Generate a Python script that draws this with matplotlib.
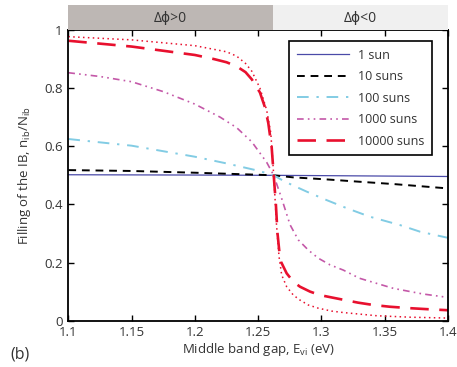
import matplotlib
matplotlib.use("Agg")
import matplotlib.pyplot as plt

plt.rcParams['font.family'] = ['Open Sans', 'DejaVu Sans']
plt.rcParams['mathtext.fontset'] = 'custom'
plt.rcParams['mathtext.rm'] = 'Open Sans'

# values
x_1sun = [1.10, 1.20, 1.2623, 1.30, 1.40]
y_1sun = [0.502, 0.501, 0.500, 0.499, 0.496]

x_10suns = [1.10, 1.15, 1.20, 1.25, 1.2623, 1.2777, 1.304, 1.33, 1.357, 1.40]
y_10suns = [0.518, 0.515, 0.509, 0.502, 0.500, 0.493, 0.486, 0.478, 0.470, 0.455]

x_100suns = [1.10, 1.15, 1.20, 1.225, 1.25, 1.2623, 1.2712, 1.2883, 1.304,
             1.32, 1.338, 1.362, 1.378, 1.40]
y_100suns = [0.625, 0.602, 0.564, 0.541, 0.516, 0.500, 0.478, 0.444, 0.415,
             0.387, 0.358, 0.329, 0.306, 0.285]

x_1000suns = [1.10, 1.125, 1.15, 1.175, 1.20, 1.22, 1.233, 1.245, 1.2567,
              1.2623, 1.2686, 1.2752, 1.2817, 1.2896, 1.2975, 1.3068, 1.3173,
              1.33, 1.357, 1.38, 1.40]
y_1000suns = [0.853, 0.840, 0.822, 0.788, 0.745, 0.700, 0.664, 0.615, 0.545,
              0.500, 0.420, 0.330, 0.278, 0.243, 0.215, 0.192, 0.174,
              0.146, 0.111, 0.092, 0.080]

x_10000suns = [1.10, 1.15, 1.20, 1.215, 1.225, 1.233, 1.24, 1.245, 1.2514,
               1.2553, 1.258, 1.2607, 1.2623, 1.264, 1.2653, 1.2668, 1.268,
               1.2725, 1.2778, 1.283, 1.291, 1.2989, 1.308, 1.3173, 1.329,
               1.341, 1.354, 1.37, 1.386, 1.40]
y_10000suns = [0.963, 0.943, 0.914, 0.900, 0.889, 0.875, 0.855, 0.830, 0.785,
               0.735, 0.680, 0.595, 0.500, 0.400, 0.300, 0.235, 0.203,
               0.163, 0.134, 0.117, 0.100, 0.088, 0.080, 0.072, 0.062,
               0.054, 0.048, 0.043, 0.039, 0.036]

# extra dotted curve (not in legend)
x_dotted = [1.10, 1.15, 1.20, 1.225, 1.233, 1.24, 1.245, 1.2514, 1.2567, 1.26,
            1.2623, 1.2645, 1.2665, 1.2686, 1.2725, 1.2778, 1.283, 1.2896,
            1.2975, 1.308, 1.3173, 1.3437, 1.37, 1.40]
y_dotted = [0.977, 0.966, 0.946, 0.925, 0.910, 0.885, 0.858, 0.800, 0.725,
            0.645, 0.500, 0.330, 0.220, 0.157, 0.117, 0.088, 0.071, 0.054,
            0.043, 0.033, 0.028, 0.017, 0.012, 0.009]

xticks = [1.1, 1.15, 1.2, 1.25, 1.3, 1.35, 1.4]
xtick_labels = ['1.1', '1.15', '1.2', '1.25', '1.3', '1.35', '1.4']
yticks = [0, 0.2, 0.4, 0.6, 0.8, 1]
ytick_labels = ['0', '0.2', '0.4', '0.6', '0.8', '1']
band_split = 1.2617
band_labels = ['\u0394\u03d5>0', '\u0394\u03d5<0']

fig = plt.figure(figsize=(4.57, 3.67), dpi=100)
ax = fig.add_axes([0.1495, 0.1262, 0.8308, 0.7921])

red = '#e8102e'
ax.plot(x_1sun, y_1sun, color='#4a4aa8', lw=0.9, label='1 sun')
ax.plot(x_10suns, y_10suns, color='black', lw=1.4, ls=(0, (4, 3)), label='10 suns')
ax.plot(x_100suns, y_100suns, color='#82cce4', lw=1.4,
        ls=(0, (6, 4, 1.2, 4)), label='100 suns')
ax.plot(x_1000suns, y_1000suns, color='#c458a8', lw=1.2,
        ls=(0, (4, 2.5, 1, 2.5, 1, 2.5)), label='1000 suns')
ax.plot(x_10000suns, y_10000suns, color=red, lw=1.9, ls=(0, (7, 4)),
        label='10000 suns')
ax.plot(x_dotted, y_dotted, color=red, lw=1.1, ls=(0, (1, 2.2)))

ax.set_xlim(1.1, 1.4)
ax.set_ylim(0, 1)
ax.set_xticks(xticks)
ax.set_xticklabels(xtick_labels)
ax.set_yticks(yticks)
ax.set_yticklabels(ytick_labels)
ax.tick_params(direction='in', top=True, right=True, length=4, width=1,
               labelsize=9.5, labelcolor='#333333', pad=4)
for s in ax.spines.values():
    s.set_linewidth(1.3)

ax.set_xlabel('Middle band gap, E$_{\\mathrm{vi}}$ (eV)', fontsize=9.5,
              color='#333333', labelpad=1)
ax.set_ylabel('Filling of the IB, n$_{\\mathrm{ib}}$/N$_{\\mathrm{ib}}$',
              fontsize=9.5, color='#333333', labelpad=8)

leg = ax.legend(loc='upper right', bbox_to_anchor=(0.958, 0.962),
                borderaxespad=0, fontsize=9, handlelength=4.2,
                labelspacing=0.68, borderpad=0.6, handletextpad=0.7,
                fancybox=False, framealpha=1)
leg.get_frame().set_edgecolor('black')
leg.get_frame().set_linewidth(1.2)
for t in leg.get_texts():
    t.set_color('#333333')

# band above the axes
bax = fig.add_axes([0.1495, 0.9183, 0.8308, 0.068])
bax.set_xlim(1.1, 1.4)
bax.set_ylim(0, 1)
bax.axvspan(1.1, band_split, color='#bdb7b4', lw=0)
bax.axvspan(band_split, 1.4, color='#f0f0f0', lw=0)
bax.text((1.1 + band_split) / 2, 0.45, band_labels[0], ha='center', va='center',
         fontsize=10, color='#333333')
bax.text((band_split + 1.4) / 2, 0.45, band_labels[1], ha='center', va='center',
         fontsize=10, color='#333333')
bax.axis('off')

fig.text(0.022, 0.033, '(b)', fontsize=11.5, color='#333333', va='center')

fig.savefig('out.png', dpi=100)
